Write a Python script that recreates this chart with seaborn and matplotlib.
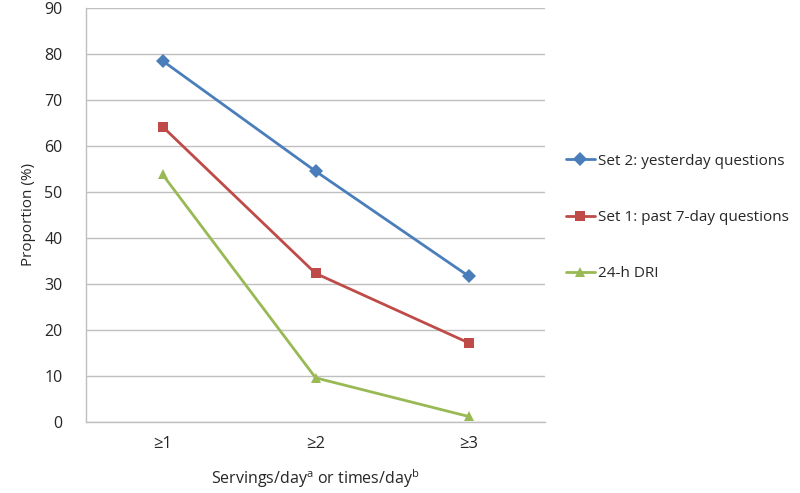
import matplotlib
matplotlib.use("Agg")
import matplotlib.pyplot as plt
import seaborn as sns
import pandas as pd

categories = ["≥1", "≥2", "≥3"]
series_names = ["Set 2: yesterday questions", "Set 1: past 7-day questions", "24-h DRI"]
set2_values = [78.5, 54.5, 31.7]
set1_values = [64.2, 32.3, 17.2]
dri_values = [53.8, 9.6, 1.2]

colors = ["#4a7ebb", "#be4b48", "#98b954"]
markers = ["D", "s", "^"]

df = pd.DataFrame({
    "category": categories * 3,
    "series": [s for s in series_names for _ in categories],
    "value": set2_values + set1_values + dri_values,
})

sns.set_style("white")
plt.rcParams["font.family"] = ["Open Sans", "DejaVu Sans"]
plt.rcParams["mathtext.fontset"] = "custom"
plt.rcParams["mathtext.rm"] = "Open Sans"

fig = plt.figure(figsize=(8, 4.93), dpi=100)
ax = fig.add_axes([0.1075, 0.144, 0.574, 0.84])

sns.lineplot(data=df, x="category", y="value", hue="series", style="series",
             hue_order=series_names, style_order=series_names,
             palette=colors, markers=markers, dashes=False, markersize=7,
             markeredgewidth=0, linewidth=2, ax=ax, sort=False)

ax.set_ylim(0, 90)
ax.set_yticks(range(0, 91, 10))
ax.set_xlim(-0.5, 2.5)
ax.yaxis.grid(True, color="#bfbfbf", linewidth=1)
ax.xaxis.grid(False)
for side in ["top", "right"]:
    ax.spines[side].set_visible(False)
for side in ["left", "bottom"]:
    ax.spines[side].set_color("#bfbfbf")
    ax.spines[side].set_linewidth(1)

ax.set_xticks([-0.5, 0.5, 1.5, 2.5], minor=True)
ax.tick_params(axis="x", which="major", length=0, pad=10, labelsize=12, colors="#262626")
ax.tick_params(axis="x", which="minor", length=5, color="#bfbfbf", width=1)
ax.tick_params(axis="y", length=6, color="#bfbfbf", width=1, labelsize=11.5, colors="#262626", pad=11)

ax.set_xlabel("Servings/day$^{\\mathrm{a}}$ or times/day$^{\\mathrm{b}}$", fontsize=11.5, color="#262626", labelpad=11)
ax.set_ylabel("Proportion (%)", fontsize=11, color="#262626", labelpad=6)

ax.legend(loc="upper left", bbox_to_anchor=(0.69, 0.716), bbox_transform=fig.transFigure,
          frameon=False, fontsize=11, labelspacing=2.7, handlelength=1.9,
          handletextpad=0.2, labelcolor="#262626")

fig.savefig("out.png", dpi=100)
